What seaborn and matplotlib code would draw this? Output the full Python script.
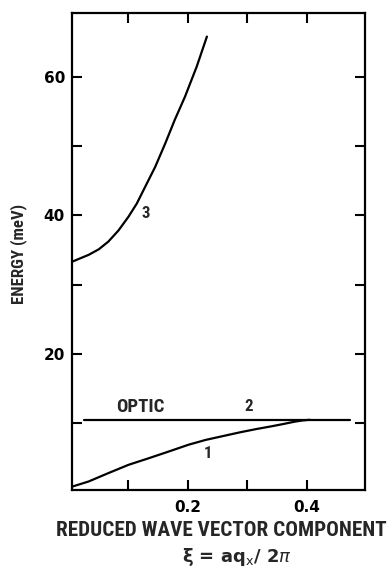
import warnings
warnings.filterwarnings("ignore")
import numpy as np
import pandas as pd
import matplotlib
matplotlib.use("Agg")
import matplotlib.pyplot as plt
import seaborn as sns
from matplotlib import font_manager as fm

# ---- data ----
xi_branch1 = [0.005, 0.033, 0.066, 0.100, 0.134, 0.167, 0.201, 0.230, 0.260, 0.288,
              0.316, 0.340, 0.361, 0.378, 0.392, 0.405]
E_branch1 = [0.85, 1.6, 2.8, 4.0, 4.95, 5.9, 6.9, 7.6, 8.17, 8.7,
             9.18, 9.55, 9.9, 10.2, 10.4, 10.5]

xi_optic = [0.025, 0.473]
E_optic = [10.5, 10.5]

xi_branch3 = [0.005, 0.016, 0.033, 0.050, 0.066, 0.083, 0.100, 0.114, 0.128, 0.145,
              0.162, 0.178, 0.195, 0.215, 0.232]
E_branch3 = [33.3, 33.7, 34.3, 35.1, 36.2, 37.8, 39.8, 41.7, 44.1, 47.0,
             50.4, 53.8, 57.1, 61.5, 65.8]

x_ticks = [0.1, 0.2, 0.3, 0.4]
x_ticklabels = ["", "0.2", "", "0.4"]
y_ticks = [10, 20, 30, 40, 50, 60]
y_ticklabels = ["", "20", "", "40", "", "60"]

xlabel_text = "REDUCED WAVE VECTOR COMPONENT"
ylabel_text = "ENERGY (meV)"

sns.set_style("ticks")
plt.rcParams["font.family"] = ["DejaVu Sans"]
DPI = 100

NEEDED = set(xlabel_text + ylabel_text + "OPTIC0123456789.")
ALLOWED = ("DejaVu Sans", "Liberation Sans", "Noto Sans", "Roboto", "Open Sans", "Lato", "Inter")


def ink(fname, s, size=100.0):
    f = fm.get_font(fname)
    f.set_size(size, 72)
    f.set_text(s, 0.0)
    w, h = f.get_width_height()
    return w / 64.0, h / 64.0


def covers(fname):
    f = fm.get_font(fname)
    return all(f.get_char_index(ord(c)) != 0 for c in NEEDED if c != " ")


def ratio(fname):
    w, _ = ink(fname, xlabel_text)
    _, h = ink(fname, "H")
    return w / h if h > 0 else 1e9


TARGET = 331.0 / 15.0
chosen = fm.findfont(fm.FontProperties(family="DejaVu Sans", weight="bold"))
best = abs(ratio(chosen) - TARGET)
for f in fm.fontManager.ttflist:
    try:
        wt = f.weight if isinstance(f.weight, int) else {"bold": 700, "semibold": 600, "demibold": 600}.get(str(f.weight), 400)
        if wt < 650 or wt > 800 or f.style != "normal":
            continue
        nm = f.name
        if not nm.startswith(ALLOWED) or any(k in nm for k in ("Serif", "Mono", "CJK", "Display")):
            continue
        if nm.startswith("Noto Sans") and nm != "Noto Sans" and "Condensed" not in f.fname:
            continue
        if not f.fname.lower().endswith((".ttf", ".otf")) or not covers(f.fname):
            continue
        d = abs(ratio(f.fname) - TARGET)
        if d < best:
            best, chosen = d, f.fname
    except Exception:
        pass


def fit_w(s, target_px, fname=chosen):
    w100 = ink(fname, s, 100.0)[0] * DPI / 72.0
    return 100.0 * target_px / w100 if w100 > 0 else 12.0


def fit_h(target_px, fname=chosen):
    h100 = ink(fname, "H", 100.0)[1] * DPI / 72.0
    return 100.0 * target_px / h100 if h100 > 0 else 12.0


def fp(size, fname=chosen):
    return fm.FontProperties(fname=fname, size=size)


bold_dv = fm.FontProperties(family="DejaVu Sans", weight="bold", size=11)

fig = plt.figure(figsize=(3.89, 5.73), dpi=DPI)
ax = fig.add_axes([72/389, 1-490/573, (365-72)/389, (490-13)/573])

df1 = pd.DataFrame({"xi": xi_branch1, "E": E_branch1})
df2 = pd.DataFrame({"xi": xi_optic, "E": E_optic})
df3 = pd.DataFrame({"xi": xi_branch3, "E": E_branch3})
for d in (df1, df2, df3):
    sns.lineplot(data=d, x="xi", y="E", ax=ax, color="black", lw=1.6,
                 sort=False, estimator=None)

ax.set_xlim(0.005, 0.498)
ax.set_ylim(0.37, 69.2)

ax.set_xticks(x_ticks)
ax.set_xticklabels(x_ticklabels, fontproperties=bold_dv)
ax.set_yticks(y_ticks)
ax.set_yticklabels(y_ticklabels, fontproperties=bold_dv)
ax.tick_params(direction="in", length=7, width=1.5, top=True, right=True, pad=5,
               colors="black")
ax.tick_params(axis="x", pad=7)
for s in ax.spines.values():
    s.set_linewidth(1.6)
    s.set_visible(True)
    s.set_color("black")

ax.set_xlabel(xlabel_text, fontproperties=fp(fit_w(xlabel_text, 331)), va="center", ha="center")
ax.xaxis.set_label_coords((221 - 72) / 293, (490 - 531) / 477)
ax.set_ylabel(ylabel_text, fontproperties=fp(fit_w(ylabel_text, 100)), va="center", ha="center")
ax.yaxis.set_label_coords((19 - 72) / 293, (490 - 254) / 477)

fig.text(237/389, 1-557/573, r"$\mathbf{\xi}$ = aq$_\mathrm{x}$/ 2$\pi$", ha="center", va="center",
         fontsize=13, fontweight="bold")

dig = fp(fit_h(12))
ax.text(0.129, 40.3, "3", fontproperties=dig, ha="center", va="center")
ax.text(0.120, 12.4, "OPTIC", fontproperties=fp(fit_w("OPTIC", 48)), ha="center", va="center")
ax.text(0.302, 12.4, "2", fontproperties=dig, ha="center", va="center")
ax.text(0.234, 5.7, "1", fontproperties=dig, ha="center", va="center")

fig.savefig("out.png", dpi=DPI)
